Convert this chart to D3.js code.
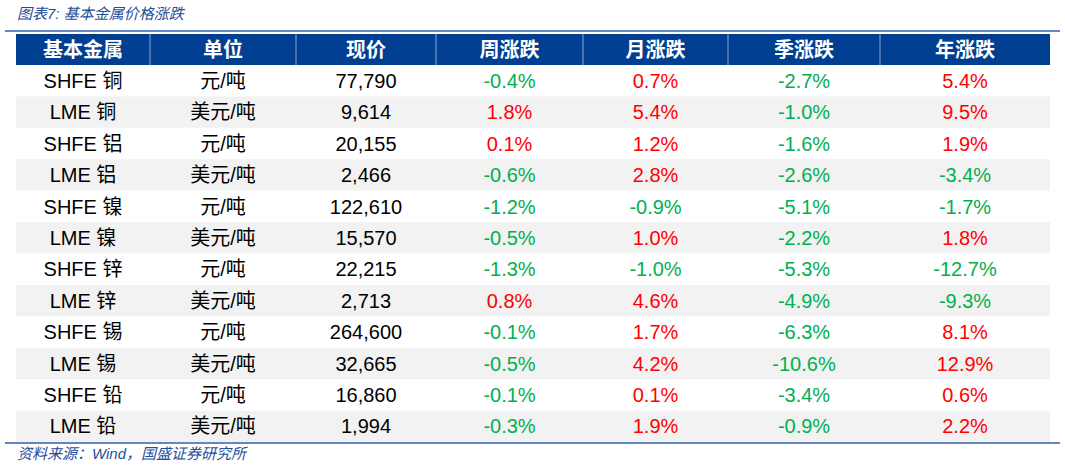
<!DOCTYPE html><html><head><meta charset="utf-8"><script src="https://cdn.jsdelivr.net/npm/d3@7"></script>
<style>body{margin:0;background:#fff}</style></head><body><svg id="c" width="1065" height="467"></svg><script>
const headers=["基本金属","单位","现价","周涨跌","月涨跌","季涨跌","年涨跌"];
const metals=["SHFE 铜","LME 铜","SHFE 铝","LME 铝","SHFE 镍","LME 镍","SHFE 锌","LME 锌","SHFE 锡","LME 锡","SHFE 铅","LME 铅"];
const units=["元/吨","美元/吨","元/吨","美元/吨","元/吨","美元/吨","元/吨","美元/吨","元/吨","美元/吨","元/吨","美元/吨"];
const prices=["77,790","9,614","20,155","2,466","122,610","15,570","22,215","2,713","264,600","32,665","16,860","1,994"];
const weekly=[-0.4,1.8,0.1,-0.6,-1.2,-0.5,-1.3,0.8,-0.1,-0.5,-0.1,-0.3];
const monthly=[0.7,5.4,1.2,2.8,-0.9,1.0,-1.0,4.6,1.7,4.2,0.1,1.9];
const quarterly=[-2.7,-1.0,-1.6,-2.6,-5.1,-2.2,-5.3,-4.9,-6.3,-10.6,-3.4,-0.9];
const yearly=[5.4,9.5,1.9,-3.4,-1.7,1.8,-12.7,-9.3,8.1,12.9,0.6,2.2];
const svg=d3.select("#c");
const bounds=[16,150,296,436,583,728,880,1050];
const x=i=>bounds[i], cx=i=>(bounds[i]+bounds[i+1])/2;
const y=d3.scaleLinear().domain([0,12]).range([65,442]);
const rh=y(1)-y(0);
const font="'Liberation Sans','Noto Sans CJK SC',sans-serif";
svg.append("text").attr("x",17).attr("y",19).text("图表7:  基本金属价格涨跌").attr("font-family",font).attr("font-style","italic").attr("font-size",15).attr("fill","#1f4e9a");
svg.append("line").attr("x1",5).attr("x2",1060).attr("y1",31).attr("y2",31).attr("stroke","#2f5fa8").attr("stroke-width",1.5);
svg.append("rect").attr("x",16).attr("y",34).attr("width",1034).attr("height",31).attr("fill","#003f91");
for(let i=1;i<7;i++)svg.append("line").attr("x1",x(i)).attr("x2",x(i)).attr("y1",34).attr("y2",65).attr("stroke","#8aa6d0").attr("stroke-width",1);
headers.forEach((h,i)=>svg.append("text").attr("x",cx(i)).attr("y",50).attr("dy","0.36em").attr("text-anchor","middle").text(h).attr("font-family","'Noto Sans CJK SC',sans-serif").attr("font-weight","bold").attr("font-size",20).attr("fill","#fff"));
const fmt=v=>v.toFixed(1)+"%";
const col=v=>v<0?"#00b050":"#ff0000";
metals.forEach((m,r)=>{
  if(r%2==1)svg.append("rect").attr("x",16).attr("y",y(r)).attr("width",1034).attr("height",rh).attr("fill","#f2f2f2");
  const cells=[[m,"#000"],[units[r],"#000"],[prices[r],"#000"],[fmt(weekly[r]),col(weekly[r])],[fmt(monthly[r]),col(monthly[r])],[fmt(quarterly[r]),col(quarterly[r])],[fmt(yearly[r]),col(yearly[r])]];
  cells.forEach((c,i)=>svg.append("text").attr("x",cx(i)).attr("y",y(r)+rh/2).attr("dy","0.36em").attr("text-anchor","middle").text(c[0]).attr("font-family",font).attr("font-size",20).attr("fill",c[1]));
});
svg.append("line").attr("x1",5).attr("x2",1060).attr("y1",443).attr("y2",443).attr("stroke","#2f5fa8").attr("stroke-width",1.5);
svg.append("text").attr("x",17).attr("y",459).text("资料来源：Wind，国盛证券研究所").attr("font-family",font).attr("font-style","italic").attr("font-size",15).attr("fill","#1f4e9a");
</script></body></html>
